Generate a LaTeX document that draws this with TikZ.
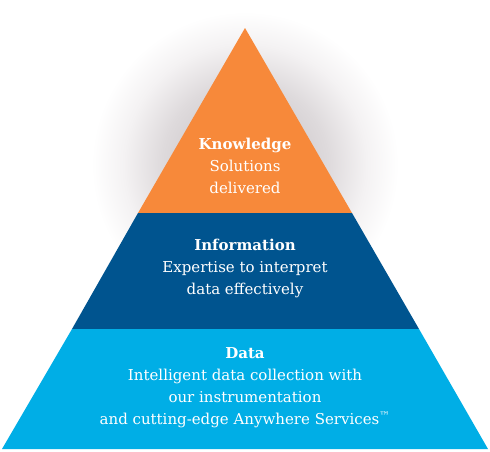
\documentclass[tikz,border=0pt]{standalone}
\usepackage{fontspec}
\setmainfont{DejaVu Serif}
\definecolor{korange}{RGB}{247,137,58}
\definecolor{kdark}{RGB}{0,84,143}
\definecolor{klight}{RGB}{0,174,230}
\definecolor{kglow}{RGB}{210,205,207}
\definecolor{kglowb}{RGB}{222,218,220}
\definecolor{kglowc}{RGB}{244,242,243}
\pgfdeclareradialshading{glow}{\pgfpoint{0bp}{0bp}}{color(0bp)=(kglow); color(8bp)=(kglow); color(13bp)=(kglowb); color(19bp)=(kglowc); color(24bp)=(white); color(50bp)=(white)}
\tikzset{
  layer/.style={draw=none},
  lbl/.style={align=center, text=white, font=\fontsize{15}{22}\selectfont}
}
\begin{document}
\begin{tikzpicture}[x=1pt,y=-1pt]
\useasboundingbox (0,0) rectangle (490,451);
\fill[white] (0,0) rectangle (490,451);
\shade[shading=glow] (245,165) circle (160);
\coordinate (apex) at (245,28);
\coordinate (l1) at (138,213);
\coordinate (r1) at (352,213);
\coordinate (l2) at (72,329);
\coordinate (r2) at (419,329);
\coordinate (l3) at (2,449);
\coordinate (r3) at (488,449);
\fill[layer, fill=korange] (apex) -- (r1) -- (l1) -- cycle;
\fill[layer, fill=kdark] (l1) -- (r1) -- (r2) -- (l2) -- cycle;
\fill[layer, fill=klight] (l2) -- (r2) -- (r3) -- (l3) -- cycle;
\node[lbl] (know) at (245,166) {{\bfseries Knowledge}\\Solutions\\delivered};
\node[lbl] (info) at (245,268) {{\bfseries Information}\\Expertise to interpret\\data effectively};
\node[lbl] (data) at (245,388) {{\bfseries Data}\\Intelligent data collection with\\our instrumentation\\and cutting-edge Anywhere Services\textsuperscript{™}};
\end{tikzpicture}
\end{document}
